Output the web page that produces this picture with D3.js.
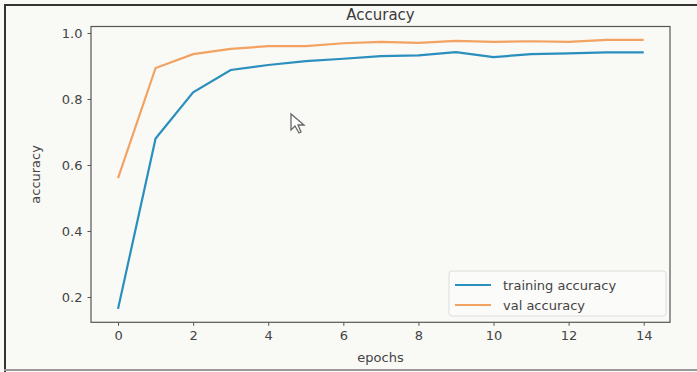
<!DOCTYPE html>
<html><head><meta charset="utf-8">
<script src="https://cdn.jsdelivr.net/npm/d3@7"></script>
<style>body{margin:0;background:#fff;}svg{display:block;}</style>
</head><body>
<script>
const epochs = [0,1,2,3,4,5,6,7,8,9,10,11,12,13,14];
const trainingAcc = [0.164,0.68,0.82,0.888,0.903,0.915,0.922,0.93,0.932,0.942,0.927,0.936,0.938,0.941,0.941];
const valAcc = [0.56,0.894,0.936,0.952,0.96,0.96,0.969,0.973,0.97,0.976,0.973,0.975,0.973,0.979,0.979];
const xTicks = [0,2,4,6,8,10,12,14];
const yTicks = [0.2,0.4,0.6,0.8,1.0];
const seriesNames = ["training accuracy","val accuracy"];

const W=697,H=372;
const svg=d3.select("body").append("svg").attr("width",W).attr("height",H)
  .style("font-family","DejaVu Sans, sans-serif");
svg.append("rect").attr("width",W).attr("height",H).attr("fill","#f9f9f6");
// screenshot frame
svg.append("line").attr("x1",4).attr("x2",W).attr("y1",5).attr("y2",5).attr("stroke","#333").attr("stroke-width",2);
svg.append("line").attr("x1",5).attr("x2",5).attr("y1",4).attr("y2",H).attr("stroke","#333").attr("stroke-width",2);
svg.append("line").attr("x1",4).attr("x2",W).attr("y1",370).attr("y2",370).attr("stroke","#999").attr("stroke-width",2);

const L=91,R=670,T=26.5,B=322.3;
const x=d3.scaleLinear().domain([-0.72,14.7]).range([L,R]);
const y=d3.scaleLinear().domain([0.1233,1.0197]).range([B,T]);

const gx=svg.append("g").attr("transform",`translate(0,${B})`)
  .call(d3.axisBottom(x).tickValues(xTicks).tickSize(3.5).tickPadding(5).tickFormat(d3.format("d")));
const gy=svg.append("g").attr("transform",`translate(${L},0)`)
  .call(d3.axisLeft(y).tickValues(yTicks).tickSize(3.5).tickPadding(5).tickFormat(d3.format(".1f")));
[gx,gy].forEach(g=>{
  g.select(".domain").remove();
  g.selectAll("line").attr("stroke","#555");
  g.selectAll("text").attr("fill","#444").style("font-size","13px").style("font-family","DejaVu Sans, sans-serif");
});
svg.append("rect").attr("x",L).attr("y",T).attr("width",R-L).attr("height",B-T)
  .attr("fill","none").attr("stroke","#555").attr("stroke-width",1.2);

const line=d3.line().x((d,i)=>x(epochs[i])).y(d=>y(d));
svg.append("path").datum(trainingAcc).attr("d",line).attr("fill","none").attr("stroke","#2a8fbd").attr("stroke-width",2.2);
svg.append("path").datum(valAcc).attr("d",line).attr("fill","none").attr("stroke","#f2a261").attr("stroke-width",2.2);

svg.append("text").attr("x",(L+R)/2).attr("y",20).attr("text-anchor","middle")
  .style("font-size","15px").attr("fill","#3a3a3a").text("Accuracy");
svg.append("text").attr("x",(L+R)/2).attr("y",362).attr("text-anchor","middle")
  .style("font-size","13px").attr("fill","#444").text("epochs");
svg.append("text").attr("transform",`translate(40,${(T+B)/2}) rotate(-90)`).attr("text-anchor","middle")
  .style("font-size","13px").attr("fill","#444").text("accuracy");

// legend
const lg=svg.append("g");
lg.append("rect").attr("x",449).attr("y",271).attr("width",217).attr("height",45).attr("rx",3)
  .attr("fill","#fbfbf9").attr("stroke","#ddd");
const colors=["#2a8fbd","#f2a261"];
seriesNames.forEach((n,i)=>{
  const yy=285+i*20;
  lg.append("line").attr("x1",455).attr("x2",491).attr("y1",yy).attr("y2",yy).attr("stroke",colors[i]).attr("stroke-width",2.2);
  lg.append("text").attr("x",503).attr("y",yy+5).style("font-size","13px").attr("fill","#444").text(n);
});

// mouse cursor artifact
svg.append("path").attr("d","M291,114 L291,130 L295,126 L299,133 L301,132 L298,125 L304,125 Z")
  .attr("fill","#fff").attr("stroke","#666").attr("stroke-width",1.3);
</script>
</body></html>
